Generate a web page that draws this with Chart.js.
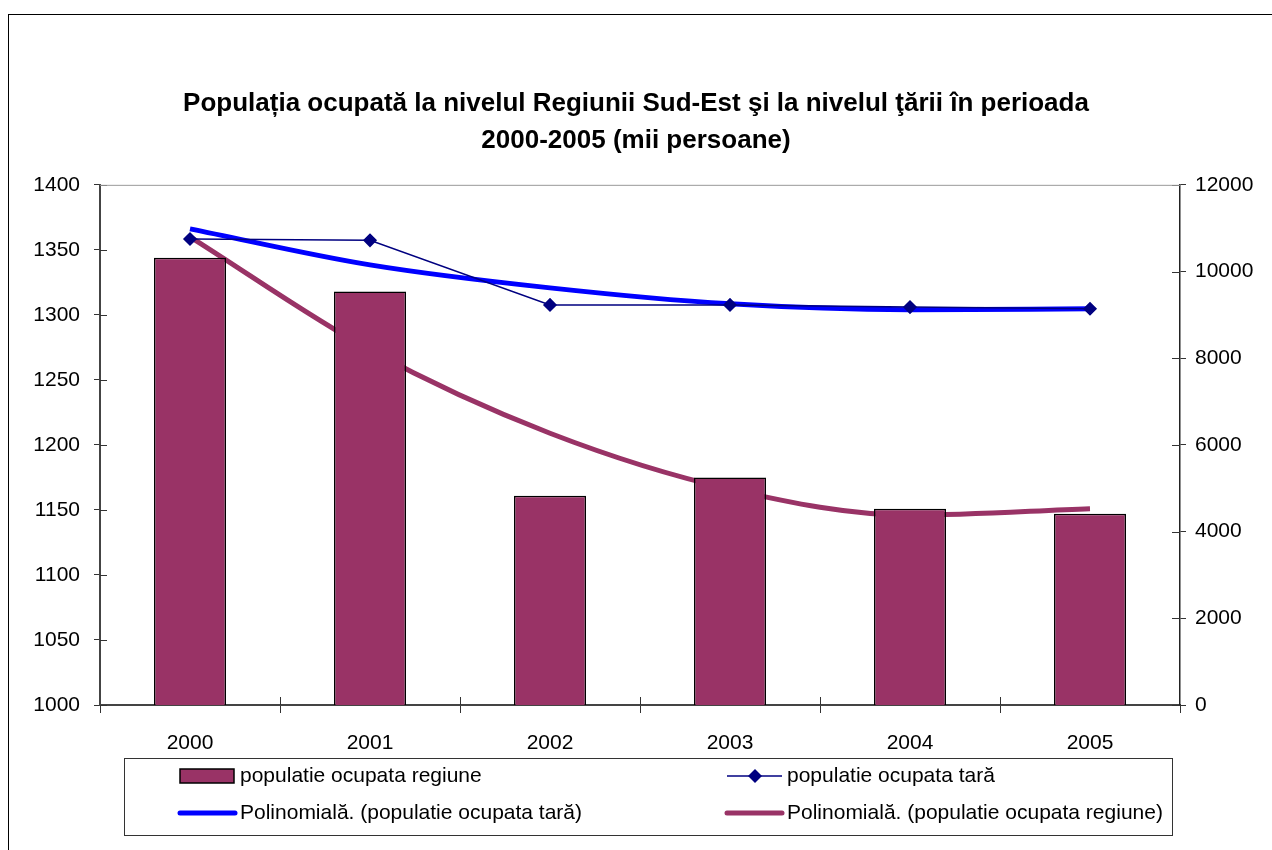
<!DOCTYPE html>
<html>
<head>
<meta charset="utf-8">
<script src="https://cdn.jsdelivr.net/npm/chart.js@4"></script>
<style>
  html, body { margin: 0; padding: 0; background: #fff; overflow: hidden; }
  #wrap { position: relative; width: 1272px; height: 850px; }
</style>
</head>
<body>
<div id="wrap"><canvas id="c"></canvas></div>
<script>
const years = ['2000', '2001', '2002', '2003', '2004', '2005'];
const regiune = [1344, 1318, 1161, 1175, 1151, 1147];
const tara = [10750, 10720, 9230, 9230, 9180, 9140];
const polyTara = [10985, 10154, 9623, 9254, 9120, 9140];
const polyRegiune = [1360, 1273, 1209, 1166, 1146, 1151];
const leftTicks = [1000, 1400, 50];
const rightTicks = [0, 12000, 2000];

const FONT = "'Liberation Sans', Arial, sans-serif";
const purple = '#993366';

// inner half of the "cross" tick marks + frame around the whole chart
const extras = {
    id: 'extras',
    beforeDraw(chart) {
        const ctx = chart.ctx;
        ctx.save();
        ctx.strokeStyle = '#000';
        ctx.lineWidth = 1;
        ctx.strokeRect(8.5, 14.5, 1400, 1000);
        ctx.restore();
    },
    afterDraw(chart) {
        const ctx = chart.ctx;
        const { y, y2, x } = chart.scales;
        const a = chart.chartArea;
        ctx.save();
        ctx.strokeStyle = '#333';
        ctx.lineWidth = 1;
        ctx.beginPath();
        y.ticks.forEach(t => {
            const py = Math.round(y.getPixelForValue(t.value)) + 0.5;
            ctx.moveTo(a.left, py); ctx.lineTo(a.left + 7, py);
        });
        y2.ticks.forEach(t => {
            const py = Math.round(y2.getPixelForValue(t.value)) + 0.5;
            ctx.moveTo(a.right, py); ctx.lineTo(a.right - 8, py);
        });
        for (let i = 1; i < years.length; i++) {
            const px = Math.round((x.getPixelForValue(i - 1) + x.getPixelForValue(i)) / 2) + 0.5;
            ctx.moveTo(px, a.bottom); ctx.lineTo(px, a.bottom - 8);
        }
        ctx.stroke();
        // top border of plot area
        ctx.strokeStyle = '#999';
        ctx.beginPath();
        ctx.moveTo(a.left, a.top + 0.5); ctx.lineTo(a.right, a.top + 0.5);
        ctx.stroke();
        ctx.restore();
    }
};

// boxed two-column legend under the axis
const boxLegend = {
    id: 'boxLegend',
    afterDraw(chart) {
        const ctx = chart.ctx;
        const ds = chart.data.datasets;
        const slots = [
            { i: 0, sx: 180, tx: 240, y: 776 },
            { i: 1, sx: 727, tx: 787, y: 776 },
            { i: 2, sx: 180, tx: 240, y: 813 },
            { i: 3, sx: 727, tx: 787, y: 813 }
        ];
        ctx.save();
        ctx.strokeStyle = '#333';
        ctx.lineWidth = 1;
        ctx.strokeRect(124.5, 758.5, 1048, 77);
        ctx.font = '21px ' + FONT;
        ctx.fillStyle = '#000';
        ctx.textBaseline = 'middle';
        slots.forEach(s => {
            const d = ds[s.i];
            if (d.type === 'bar') {
                ctx.fillStyle = d.backgroundColor;
                ctx.fillRect(s.sx, s.y - 7, 54, 14);
                ctx.strokeStyle = '#000';
                ctx.lineWidth = 1.5;
                ctx.strokeRect(s.sx, s.y - 7, 54, 14);
            } else {
                ctx.strokeStyle = d.borderColor;
                ctx.lineWidth = d.borderWidth;
                ctx.lineCap = d.borderWidth > 2 ? 'round' : 'butt';
                ctx.beginPath();
                ctx.moveTo(s.sx, s.y); ctx.lineTo(s.sx + 55, s.y);
                ctx.stroke();
                if (d.pointRadius > 0) {
                    const cx = s.sx + 28;
                    ctx.fillStyle = d.pointBackgroundColor;
                    ctx.beginPath();
                    ctx.moveTo(cx, s.y - 7); ctx.lineTo(cx + 7, s.y);
                    ctx.lineTo(cx, s.y + 7); ctx.lineTo(cx - 7, s.y);
                    ctx.closePath(); ctx.fill();
                }
            }
            ctx.fillStyle = '#000';
            ctx.fillText(d.label, s.tx, s.y);
        });
        ctx.restore();
    }
};

const plain = v => String(v);

new Chart(document.getElementById('c'), {
    data: {
        labels: years,
        datasets: [{
            type: 'bar',
            label: 'populatie ocupata regiune',
            data: regiune,
            yAxisID: 'y',
            backgroundColor: purple,
            borderColor: '#000',
            borderWidth: 1.5,
            barPercentage: 0.4,
            categoryPercentage: 1,
            order: 3
        }, {
            type: 'line',
            label: 'populatie ocupata tară',
            data: tara,
            yAxisID: 'y2',
            borderColor: '#000080',
            borderWidth: 1.5,
            pointStyle: 'rectRot',
            pointRadius: 6,
            pointBackgroundColor: '#000080',
            pointBorderColor: '#000080',
            tension: 0,
            order: 1
        }, {
            type: 'line',
            label: 'Polinomială. (populatie ocupata tară)',
            data: polyTara,
            yAxisID: 'y2',
            borderColor: '#0000ff',
            borderWidth: 5,
            pointRadius: 0,
            cubicInterpolationMode: 'monotone',
            order: 2
        }, {
            type: 'line',
            label: 'Polinomială. (populatie ocupata regiune)',
            data: polyRegiune,
            yAxisID: 'y',
            borderColor: purple,
            borderWidth: 5,
            pointRadius: 0,
            cubicInterpolationMode: 'monotone',
            order: 4
        }]
    },
    options: {
        responsive: true,
        maintainAspectRatio: false,
        animation: false,
        layout: { padding: { left: 0, right: 0, top: 0, bottom: 0 } },
        plugins: {
            legend: { display: false },
            tooltip: { enabled: false },
            title: {
                display: true,
                text: ['Populația ocupată la nivelul Regiunii Sud-Est şi la nivelul ţării în perioada', '2000-2005 (mii persoane)'],
                color: '#000',
                font: { family: FONT, size: 26, weight: 'bold', lineHeight: 1.42 },
                padding: { top: 85, bottom: 26 }
            }
        },
        scales: {
            x: {
                grid: { display: true, drawOnChartArea: false, offset: true, color: '#333', tickLength: 8 },
                border: { color: '#444', width: 2 },
                ticks: { color: '#000', font: { family: FONT, size: 21 }, padding: 18 },
                afterFit(s) { s.height = 145; }
            },
            y: {
                position: 'left',
                min: leftTicks[0], max: leftTicks[1],
                grid: { drawOnChartArea: false, color: '#333', tickLength: 6 },
                border: { color: '#444', width: 2 },
                ticks: { stepSize: leftTicks[2], color: '#000', font: { family: FONT, size: 21 }, padding: 14, callback: plain },
                afterFit(s) { s.width = 100; }
            },
            y2: {
                position: 'right',
                min: rightTicks[0], max: rightTicks[1],
                grid: { drawOnChartArea: false, color: '#333', tickLength: 6 },
                border: { color: '#222', width: 1.5 },
                ticks: { stepSize: rightTicks[2], color: '#000', font: { family: FONT, size: 21 }, padding: 9, callback: plain },
                afterFit(s) { s.width = 92; }
            }
        }
    },
    plugins: [extras, boxLegend]
});
</script>
</body>
</html>
